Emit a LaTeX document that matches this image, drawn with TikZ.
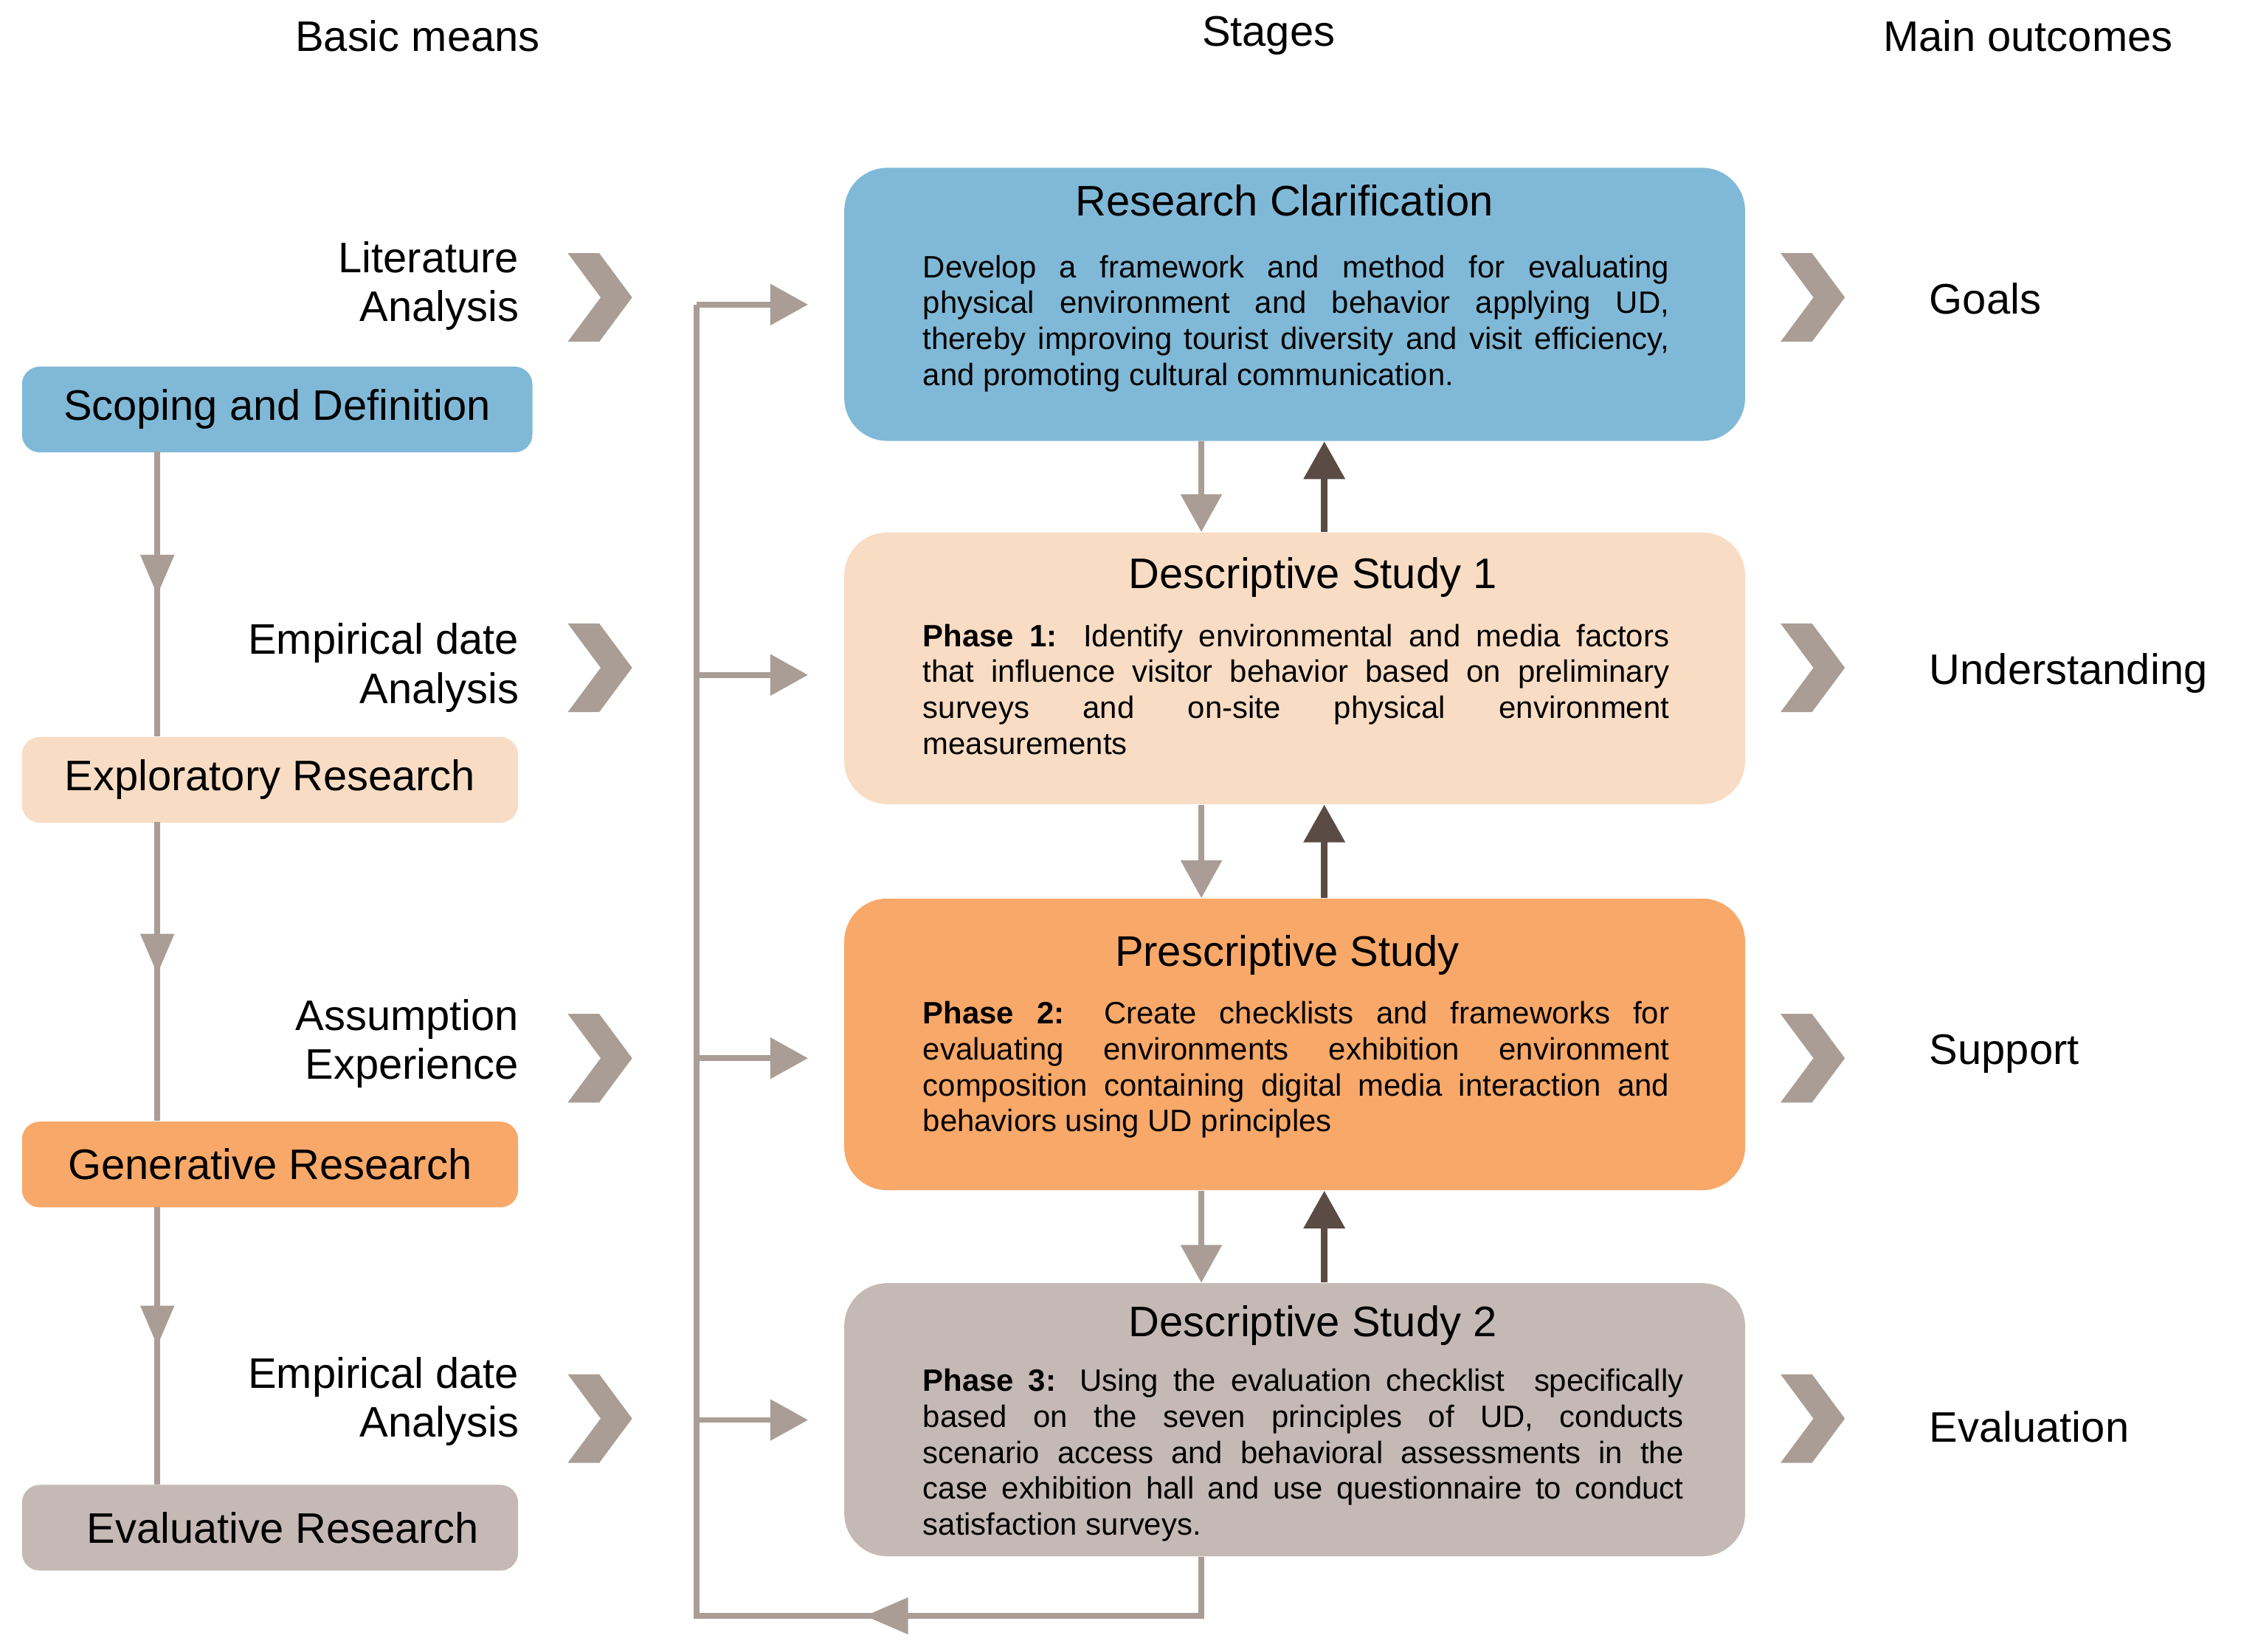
\documentclass[tikz,border=0pt]{standalone}
\usepackage{fontspec}
\setmainfont{Liberation Sans}
\usetikzlibrary{arrows.meta}
\definecolor{cBlue}{HTML}{80B9D7}
\definecolor{cPeach}{HTML}{F8DCC4}
\definecolor{cOrange}{HTML}{F8A868}
\definecolor{cGray}{HTML}{C5B9B5}
\definecolor{cLine}{HTML}{A99D95}
\definecolor{cDark}{HTML}{5B4B45}
\tikzset{
 big/.style={rounded corners=0.6cm,minimum width=12.6cm,anchor=north west,inner sep=0},
 small/.style={rounded corners=0.25cm,anchor=north west,inner sep=0,minimum height=1.2cm},
 ttl/.style={font=\fontsize{17}{20}\selectfont},
 body/.style={anchor=north west,text width=10.44cm,align=justify,inner sep=0,font=\fontsize{12.3}{14.3}\selectfont},
 lab/.style={font=\fontsize{17}{19.5}\selectfont},
 flow/.style={draw=cLine,line width=2.2pt},
 tri/.style={-{Triangle[width=16pt,length=15pt]}},
 chev/.style={fill=cLine,draw=none},
}
\begin{document}
\begin{tikzpicture}[x=0.02cm,y=-0.02cm]
\useasboundingbox (0,0) rectangle (1567,1155);
% headers
\node[lab] (h1) at (292,25) {Basic means};
\node[lab] (h2) at (887,25) {Stages};
\node[lab] (h3) at (1418,25) {Main outcomes};
% big boxes
\node[big,fill=cBlue,minimum height=3.82cm] (rc) at (590,117) {};
\node[big,fill=cPeach,minimum height=3.8cm] (d1) at (590,372) {};
\node[big,fill=cOrange,minimum height=4.08cm] (ps) at (590,628) {};
\node[big,fill=cGray,minimum height=3.82cm] (d2) at (590,897) {};
\node[ttl] (t1) at (898,140) {Research Clarification};
\node[ttl] (t2) at (918,404) {Descriptive Study 1};
\node[ttl] (t3) at (900,668) {Prescriptive Study};
\node[ttl] (t4) at (918,927) {Descriptive Study 2};
\node[body] (b1) at (645,178) {Develop a framework and method for evaluating\linebreak physical environment and behavior applying UD,\linebreak thereby improving tourist diversity and visit efficiency,\linebreak and promoting cultural communication.};
\node[body] (b2) at (645,436) {\textbf{Phase 1:} Identify environmental and media factors\linebreak that influence visitor behavior based on preliminary\linebreak surveys and on-site physical environment\linebreak measurements};
\node[body] (b3) at (645,700) {\textbf{Phase 2:} Create checklists and frameworks for\linebreak evaluating environments exhibition environment\linebreak composition containing digital media interaction and\linebreak behaviors using UD principles};
\node[body,text width=10.64cm] (b4) at (645,957) {\textbf{Phase 3:} Using the evaluation checklist\ \ specifically\linebreak based on the seven principles of UD, conducts\linebreak scenario access and behavioral assessments in the\linebreak case exhibition hall and use questionnaire to conduct\linebreak satisfaction surveys.};
% small boxes
\node[small,fill=cBlue,minimum width=7.14cm,lab] (s1) at (15,256) {Scoping and Definition};
\node[small,fill=cPeach,minimum width=6.94cm,lab] (s2) at (15,515) {Exploratory Research};
\node[small,fill=cOrange,minimum width=6.94cm,lab] (s3) at (15,784) {Generative Research};
\node[small,fill=cGray,minimum width=6.94cm,lab] (s4) at (15,1038) {\hspace{0.35cm}Evaluative Research};
% left vertical line
\coordinate (v1) at (110,400);
\coordinate (v2) at (110,665);
\coordinate (v3) at (110,925);
\begin{scope}[on background layer/.style={}]
\draw[flow] (110,316) -- (110,515) (110,575) -- (110,784) (110,844) -- (110,1038);
\end{scope}
\foreach \y in {388,653,913}{\fill[cLine] (98,\y) -- (122,\y) -- (110,\y+28) -- cycle;}
% left labels
\node[lab,anchor=east,align=right] (l1) at (369,200) {Literature\\Analysis};
\node[lab,anchor=east,align=right] (l2) at (369,467) {Empirical date\\Analysis};
\node[lab,anchor=east,align=right] (l3) at (369,730) {Assumption\\Experience};
\node[lab,anchor=east,align=right] (l4) at (369,980) {Empirical date\\Analysis};
% chevrons
\foreach \y in {208,467,740,992}{
 \fill[cLine] (397,\y-31) -- (419,\y-31) -- (442,\y) -- (419,\y+31) -- (397,\y+31) -- (420,\y) -- cycle;
 \fill[cLine] (1245,\y-31) -- (1267,\y-31) -- (1290,\y) -- (1267,\y+31) -- (1245,\y+31) -- (1268,\y) -- cycle;}
% outcomes
\node[lab,anchor=west] (o1) at (1343,209) {Goals};
\node[lab,anchor=west] (o2) at (1343,471) {Understanding};
\node[lab,anchor=west] (o3) at (1343,737) {Support};
\node[lab,anchor=west] (o4) at (1343,998) {Evaluation};
% feedback loop
\coordinate (f0) at (840,1130);
\coordinate (f1) at (487,1130);
\coordinate (f2) at (487,213);
\draw[flow] (d2.south -| 840,0) -- (f0) -- (f1) -- (f2);
\fill[cLine] (605,1130) -- (635,1117) -- (635,1143) -- cycle;
\foreach \y/\n in {213/rc,472/d1,740/ps,993/d2}{
 \coordinate (a\n) at (565,\y);
 \draw[flow,tri] (487,\y) -- (a\n);}
% between boxes
\foreach \a/\b in {rc/d1,d1/ps,ps/d2}{
 \draw[flow,tri] (\a.south -| 840,0) -- (\b.north -| 840,0);
 \draw[draw=cDark,line width=2.6pt,tri] (\b.north -| 926,0) -- (\a.south -| 926,0);}
\end{tikzpicture}
\end{document}
